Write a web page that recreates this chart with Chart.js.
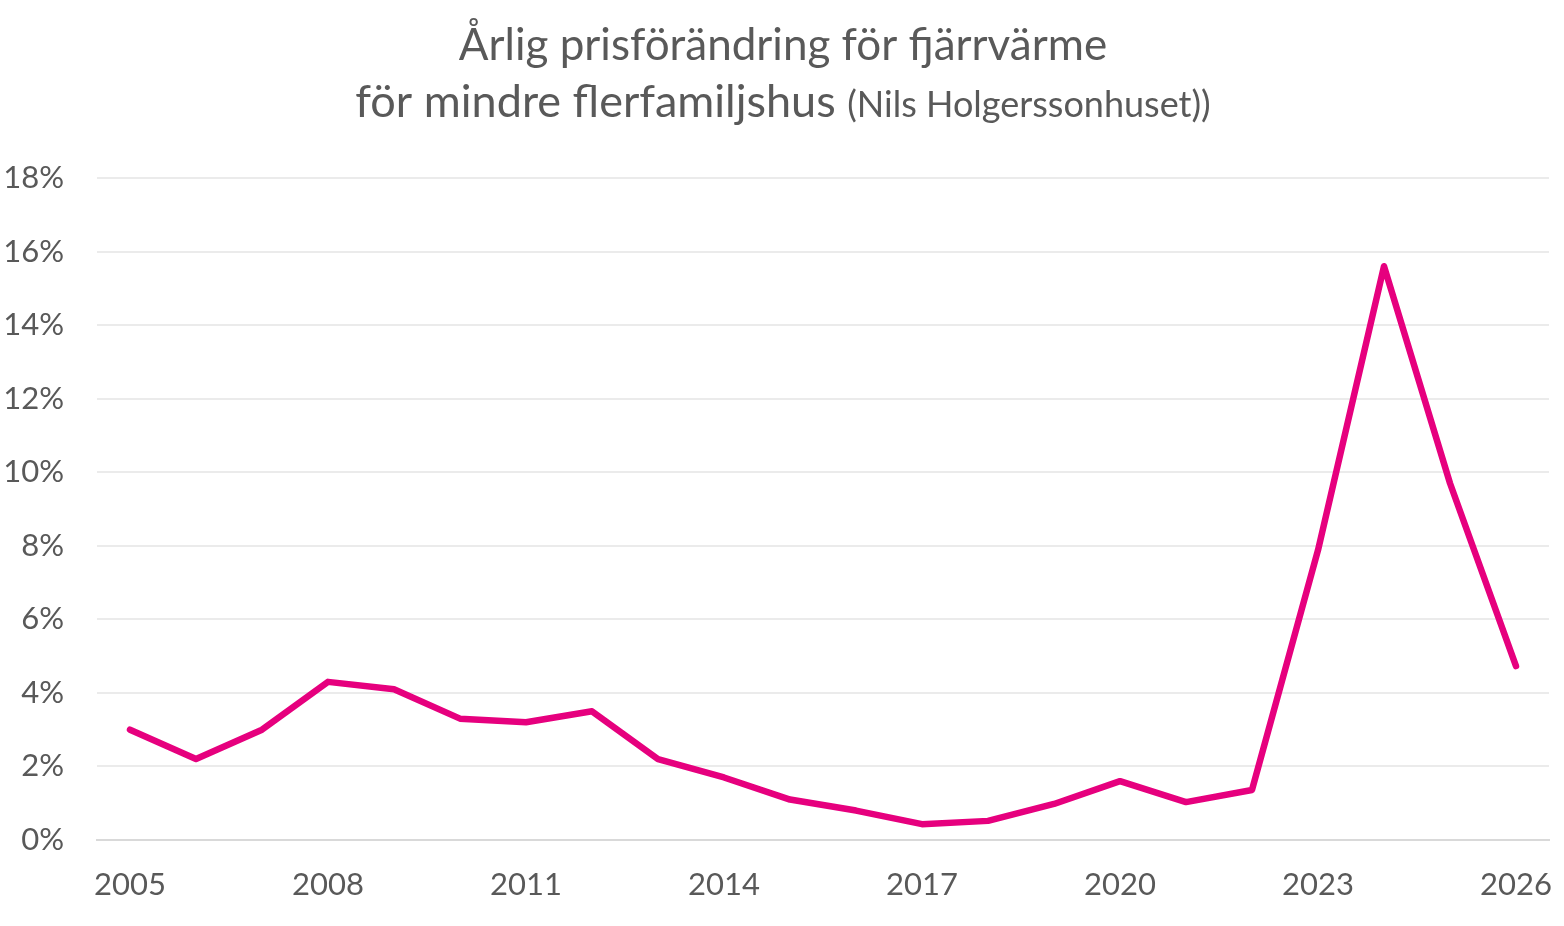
<!DOCTYPE html>
<html>
<head>
<meta charset="utf-8">
<script src="https://cdn.jsdelivr.net/npm/chart.js@4"></script>
<style>
  html, body { margin: 0; padding: 0; background: #fff; }
  #wrap { width: 1564px; height: 926px; }
</style>
</head>
<body>
<div id="wrap"><canvas id="c" width="1564" height="926"></canvas></div>
<script>
const years = ['2005','2006','2007','2008','2009','2010','2011','2012','2013','2014','2015',
  '2016','2017','2018','2019','2020','2021','2022','2023','2024','2025','2026']
const priceChange = [3.0, 2.2, 3.0, 4.3, 4.1, 3.3, 3.2, 3.5, 2.2, 1.7, 1.1,
  0.8, 0.43, 0.52, 0.98, 1.6, 1.03, 1.36, 7.88, 15.6, 9.7, 4.73]
const titleLine1 = 'Årlig prisförändring för fjärrvärme'
const titleLine2a = 'för mindre flerfamiljshus '
const titleLine2b = '(Nils Holgerssonhuset))'

const FONT = 'Lato, "Open Sans", sans-serif'
const GREY = '#595959'

// titeln ritas för hand eftersom raden har två olika storlekar
const titlePlugin = {
  id: 'mixedTitle',
  afterDraw (chart) {
    const ctx = chart.ctx
    const cx = 783
    ctx.save()
    ctx.fillStyle = GREY
    ctx.textAlign = 'center'
    ctx.textBaseline = 'alphabetic'
    const bigFont = '44px ' + FONT
    const smallFont = '36px ' + FONT
    ctx.font = bigFont
    ctx.fillText(titleLine1, cx, 60)
    ctx.font = '45px ' + FONT
    const w1 = ctx.measureText(titleLine2a).width
    ctx.font = smallFont
    const w2 = ctx.measureText(titleLine2b).width
    const start = cx - (w1 + w2) / 2
    ctx.textAlign = 'left'
    ctx.font = '45px ' + FONT
    ctx.fillText(titleLine2a, start, 117)
    ctx.font = smallFont
    ctx.fillText(titleLine2b, start + w1, 117)
    ctx.restore()
  }
}

new Chart(document.getElementById('c'), {
  type: 'line',
  data: {
    labels: years,
    datasets: [{
      data: priceChange,
      borderColor: '#E6007E',
      borderWidth: 6.5,
      pointRadius: 0,
      tension: 0,
      borderCapStyle: 'round',
      borderJoinStyle: 'round'
    }]
  },
  options: {
    responsive: false,
    animation: false,
    layout: { padding: { top: 178, right: 15, left: 0, bottom: 0 } },
    plugins: {
      legend: { display: false },
      title: { display: false },
      tooltip: { enabled: false }
    },
    scales: {
      x: {
        offset: true,
        grid: { display: false, drawTicks: false },
        border: { color: '#d9d9d9', width: 2 },
        ticks: {
          autoSkip: false,
          maxRotation: 0,
          padding: 26,
          color: GREY,
          font: { size: 31, family: FONT },
          callback: function (val, i) { return i % 3 === 0 ? this.getLabelForValue(val) : '' }
        },
        afterFit: (s) => { s.height = 86; s.paddingRight = 0 }
      },
      y: {
        min: 0,
        max: 18,
        grid: { color: '#ebebeb', lineWidth: 2, drawTicks: false },
        border: { display: false },
        ticks: {
          stepSize: 2,
          padding: 33,
          color: GREY,
          font: { size: 31, family: FONT },
          callback: (v) => v + '%'
        },
        afterFit: (s) => { s.width = 97 }
      }
    }
  },
  plugins: [titlePlugin]
})
</script>
</body>
</html>
